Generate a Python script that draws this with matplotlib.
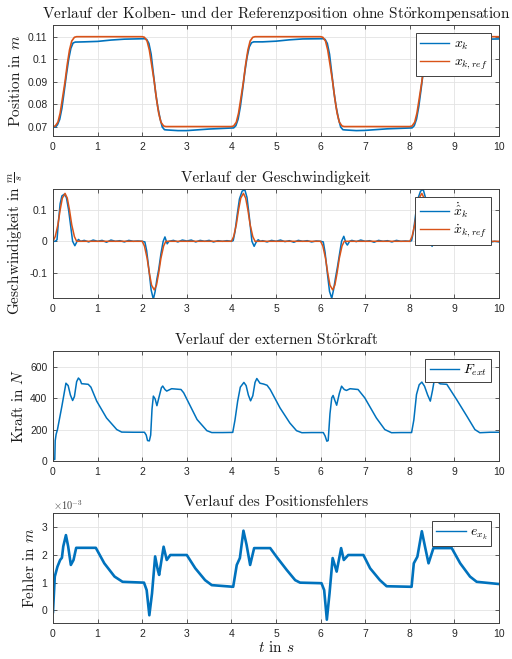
import numpy as np
import matplotlib
matplotlib.use("Agg")
import matplotlib.pyplot as plt
from matplotlib.ticker import FuncFormatter

# --- Messdaten (Stützstellen) ---------------------------------------------

# Referenzposition / Referenzgeschwindigkeit
t_ref = [0.0, 0.05, 0.11, 0.16, 0.21, 0.27, 0.32, 0.37, 0.42, 0.48, 0.53,
         2.0, 2.05, 2.11, 2.16, 2.21, 2.27, 2.32, 2.37, 2.42, 2.48, 2.53,
         4.0, 4.05, 4.11, 4.16, 4.21, 4.27, 4.32, 4.37, 4.42, 4.48, 4.53,
         6.0, 6.05, 6.11, 6.16, 6.21, 6.27, 6.32, 6.37, 6.42, 6.48, 6.53,
         8.0, 8.05, 8.11, 8.16, 8.21, 8.27, 8.32, 8.37, 8.42, 8.48, 8.53,
         10.0]
x_ref = [0.0700, 0.07026, 0.07194, 0.07594, 0.08226, 0.0900, 0.09774, 0.10406, 0.10806, 0.10974, 0.1100,
         0.1100, 0.10974, 0.10806, 0.10406, 0.09774, 0.0900, 0.08226, 0.07594, 0.07194, 0.07026, 0.0700,
         0.0700, 0.07026, 0.07194, 0.07594, 0.08226, 0.0900, 0.09774, 0.10406, 0.10806, 0.10974, 0.1100,
         0.1100, 0.10974, 0.10806, 0.10406, 0.09774, 0.0900, 0.08226, 0.07594, 0.07194, 0.07026, 0.0700,
         0.0700, 0.07026, 0.07194, 0.07594, 0.08226, 0.0900, 0.09774, 0.10406, 0.10806, 0.10974, 0.1100,
         0.1100]
v_ref = [0.0, 0.015, 0.053, 0.100, 0.138, 0.153, 0.138, 0.100, 0.053, 0.015, 0.0,
         0.0, -0.015, -0.054, -0.101, -0.140, -0.155, -0.140, -0.101, -0.054, -0.015, 0.0,
         0.0, 0.015, 0.053, 0.100, 0.138, 0.153, 0.138, 0.100, 0.053, 0.015, 0.0,
         0.0, -0.015, -0.054, -0.101, -0.140, -0.155, -0.140, -0.101, -0.054, -0.015, 0.0,
         0.0, 0.015, 0.053, 0.100, 0.138, 0.153, 0.138, 0.100, 0.053, 0.015, 0.0,
         0.0]

# Kolbenposition
t_pos = [0.0, 0.06, 0.1, 0.15, 0.2, 0.25, 0.3, 0.35, 0.4, 0.45, 0.5, 0.7, 1.0, 1.3, 1.6, 2.05,
         2.1, 2.15, 2.2, 2.25, 2.3, 2.35, 2.4, 2.45, 2.5, 2.55, 2.8, 3.0, 3.5, 4.05,
         4.1, 4.15, 4.2, 4.25, 4.3, 4.35, 4.4, 4.45, 4.5, 4.7, 5.0, 5.3, 5.6, 6.05,
         6.1, 6.15, 6.2, 6.25, 6.3, 6.35, 6.4, 6.45, 6.5, 6.55, 6.8, 7.0, 7.5, 8.05,
         8.1, 8.15, 8.2, 8.25, 8.3, 8.35, 8.4, 8.45, 8.5, 8.7, 9.0, 9.5, 10.0]
x_k = [0.0699, 0.0699, 0.0708, 0.0732, 0.0782, 0.0855, 0.0930, 0.0998, 0.1048, 0.1072, 0.1076, 0.1077, 0.1079, 0.1085, 0.1089, 0.1091,
       0.1088, 0.1070, 0.1022, 0.0937, 0.0852, 0.0786, 0.0736, 0.0698, 0.0686, 0.0685, 0.0682, 0.0682, 0.0689, 0.0694,
       0.0704, 0.0733, 0.0788, 0.0862, 0.0942, 0.1008, 0.1054, 0.1073, 0.1077, 0.1077, 0.1080, 0.1086, 0.1090, 0.1091,
       0.1088, 0.1070, 0.1022, 0.0937, 0.0852, 0.0786, 0.0736, 0.0698, 0.0686, 0.0685, 0.0682, 0.0683, 0.0690, 0.0694,
       0.0704, 0.0733, 0.0788, 0.0862, 0.0942, 0.1008, 0.1054, 0.1074, 0.1078, 0.1080, 0.1083, 0.1088, 0.1090]

# geschätzte Kolbengeschwindigkeit
t_vel = [0.0, 0.05, 0.09, 0.12, 0.16, 0.2, 0.25, 0.3, 0.35, 0.4, 0.44, 0.49, 0.54, 0.57, 0.62,
         0.7, 0.8, 0.9, 1.0, 1.1, 1.2, 1.3, 1.4, 1.5, 1.6, 1.7, 1.8, 1.9, 2.0,
         2.06, 2.1, 2.15, 2.2, 2.25, 2.29, 2.33, 2.37, 2.42, 2.47, 2.51, 2.56, 2.6,
         2.7, 2.8, 2.9, 3.0, 3.1, 3.2, 3.3, 3.4, 3.5, 3.6, 3.7, 3.8, 3.9, 4.0,
         4.04, 4.08, 4.13, 4.18, 4.24, 4.3, 4.35, 4.4, 4.46, 4.51, 4.55, 4.6, 4.65,
         4.7, 4.8, 4.9, 5.0, 5.1, 5.2, 5.3, 5.4, 5.5, 5.6, 5.7, 5.8, 5.9, 6.0,
         6.06, 6.1, 6.15, 6.2, 6.25, 6.29, 6.33, 6.38, 6.43, 6.47, 6.52, 6.57, 6.6, 6.65,
         6.7, 6.8, 6.9, 7.0, 7.1, 7.2, 7.3, 7.4, 7.5, 7.6, 7.7, 7.8, 7.9, 8.0,
         8.04, 8.08, 8.13, 8.18, 8.24, 8.3, 8.35, 8.4, 8.45, 8.5, 8.55, 8.6,
         8.7, 8.8, 8.9, 9.0, 9.1, 9.2, 9.3, 9.4, 9.5, 9.6, 9.7, 9.8, 9.9, 10.0]
v_k = [0.0, 0.0, 0.005, 0.06, 0.12, 0.145, 0.150, 0.140, 0.100, 0.045, 0.0, -0.014, 0.0, 0.006, 0.0,
       0.003, -0.002, 0.004, 0.0, 0.003, -0.003, 0.004, 0.0, 0.002, -0.002, 0.003, 0.0, 0.001, 0.0,
       -0.002, -0.03, -0.09, -0.155, -0.185, -0.16, -0.12, -0.09, -0.04, 0.0, 0.014, -0.008, 0.0,
       0.003, -0.002, 0.004, 0.001, 0.004, -0.002, 0.003, 0.0, 0.003, -0.002, 0.002, 0.0, 0.002, 0.0,
       0.002, 0.03, 0.085, 0.135, 0.160, 0.165, 0.140, 0.080, 0.0, -0.016, -0.004, 0.005, 0.0,
       0.002, -0.002, 0.003, 0.0, 0.004, -0.001, 0.002, -0.003, 0.003, 0.0, 0.002, -0.002, 0.001, 0.0,
       -0.002, -0.035, -0.10, -0.16, -0.182, -0.155, -0.12, -0.08, -0.035, 0.0, 0.016, -0.006, -0.012, 0.0,
       0.003, -0.001, 0.004, 0.0, 0.002, -0.003, 0.003, 0.0, 0.002, -0.002, 0.003, 0.0, 0.001, 0.0,
       0.002, 0.03, 0.085, 0.135, 0.160, 0.166, 0.140, 0.075, 0.0, -0.016, 0.007, 0.0,
       0.002, -0.003, 0.002, -0.002, 0.003, -0.001, 0.002, -0.004, 0.001, -0.002, 0.002, -0.003, 0.0, -0.002]

# externe Störkraft
t_F = [0.0, 0.04, 0.05, 0.07, 0.1, 0.2, 0.29, 0.34, 0.39, 0.44, 0.48, 0.53, 0.57, 0.61, 0.64, 0.72, 0.79, 0.85,
       0.98, 1.2, 1.43, 1.54, 1.8, 2.05,
       2.09, 2.12, 2.16, 2.19, 2.22, 2.25, 2.29, 2.33, 2.38, 2.43, 2.46, 2.51, 2.55, 2.6, 2.66, 2.87, 2.93,
       3.23, 3.45, 3.56, 3.8, 4.03,
       4.08, 4.14, 4.2, 4.28, 4.33, 4.38, 4.43, 4.48, 4.53, 4.57, 4.64, 4.72, 4.8, 4.87,
       5.09, 5.31, 5.46, 5.58, 5.8, 6.06,
       6.1, 6.14, 6.17, 6.21, 6.25, 6.28, 6.32, 6.36, 6.42, 6.47, 6.53, 6.58, 6.66, 6.84,
       6.99, 7.25, 7.44, 7.59, 7.8, 8.04,
       8.09, 8.15, 8.21, 8.27, 8.33, 8.4, 8.46, 8.51, 8.56, 8.62, 8.68, 8.83,
       9.05, 9.28, 9.46, 9.57, 9.8, 10.0]
F_ext = [10, 10, 130, 170, 200, 350, 495, 480, 420, 385, 410, 505, 528, 515, 492, 490, 488, 470,
         381, 274, 200, 184, 183, 183,
         165, 130, 128, 165, 330, 413, 395, 352, 410, 466, 477, 455, 445, 452, 460, 455, 434,
         264, 193, 181, 181, 182,
         260, 380, 470, 500, 480, 420, 383, 415, 500, 525, 495, 490, 482, 455,
         338, 242, 193, 180, 181, 181,
         160, 126, 130, 300, 402, 417, 385, 355, 430, 476, 455, 449, 460, 455,
         402, 274, 200, 180, 181, 181,
         260, 423, 485, 502, 476, 420, 381, 450, 534, 505, 491, 488,
         391, 285, 200, 180, 183, 183]

# Positionsfehler
t_e = [0.0, 0.04, 0.1, 0.16, 0.2, 0.23, 0.29, 0.34, 0.4, 0.46, 0.52, 0.96, 1.15, 1.38, 1.56, 2.04,
       2.1, 2.16, 2.22, 2.29, 2.35, 2.38, 2.48, 2.55, 2.63, 3.0, 3.19, 3.41, 3.56, 4.04,
       4.12, 4.19, 4.27, 4.34, 4.42, 4.51, 4.87, 5.01, 5.24, 5.43, 5.54, 6.02,
       6.08, 6.14, 6.2, 6.27, 6.36, 6.46, 6.52, 6.62, 6.96, 7.11, 7.33, 7.48, 8.04,
       8.09, 8.17, 8.27, 8.34, 8.42, 8.53, 8.94, 9.13, 9.35, 9.5, 10.0]
e_xk = [-0.06e-3, 1.22e-3, 1.58e-3, 1.82e-3, 1.9e-3, 2.31e-3, 2.72e-3, 2.31e-3, 1.64e-3, 1.82e-3, 2.26e-3, 2.26e-3, 1.70e-3, 1.22e-3, 1.03e-3, 1.0e-3,
        0.73e-3, -0.18e-3, 0.61e-3, 1.95e-3, 1.45e-3, 1.28e-3, 2.30e-3, 1.82e-3, 2.0e-3, 2.0e-3, 1.52e-3, 1.09e-3, 0.91e-3, 0.85e-3,
        1.64e-3, 1.89e-3, 2.88e-3, 2.37e-3, 1.64e-3, 2.25e-3, 2.25e-3, 1.94e-3, 1.46e-3, 1.09e-3, 1.0e-3, 0.98e-3,
        0.73e-3, -0.34e-3, 0.61e-3, 1.89e-3, 1.40e-3, 2.25e-3, 1.82e-3, 2.0e-3, 2.0e-3, 1.52e-3, 1.09e-3, 0.87e-3, 0.85e-3,
        1.70e-3, 1.94e-3, 2.86e-3, 2.31e-3, 1.70e-3, 2.25e-3, 2.25e-3, 1.70e-3, 1.22e-3, 1.03e-3, 0.95e-3]

# --- Darstellung -----------------------------------------------------------

BLUE = '#0072BD'
ORANGE = '#D95319'
AXC = '#404040'

plt.rcParams['font.family'] = 'Liberation Sans'
plt.rcParams['mathtext.fontset'] = 'cm'
plt.rcParams['axes.unicode_minus'] = False

SERIF = ['cmr10', 'DejaVu Serif']
OE = r'$\ddot{\mathrm{o}}$'

fig = plt.figure(figsize=(5.12, 6.59), dpi=100)

L, W = 53 / 512, 446 / 512
boxes = [(25, 136), (189, 298), (351, 461), (513, 623)]
axes = []
for top, bot in boxes:
    ax = fig.add_axes([L, 1 - bot / 659, W, (bot - top) / 659])
    axes.append(ax)


def style(ax, title, ylabel):
    ax.set_xlim(0, 10)
    ax.set_xticks(range(0, 11))
    ax.grid(True, color='#e3e3e3', lw=0.6)
    ax.set_axisbelow(True)
    for s in ax.spines.values():
        s.set_color(AXC)
        s.set_linewidth(0.7)
    ax.tick_params(direction='in', top=True, right=True, length=3, width=0.6,
                   color=AXC, labelcolor='#262626', labelsize=7.5, pad=4)
    ax.set_title(title, family=SERIF, fontsize=11, pad=5, color='#1a1a1a')
    ax.set_ylabel(ylabel, family=SERIF, fontsize=11, labelpad=3, color='#1a1a1a')


def legend(ax):
    lg = ax.legend(loc='upper right', fontsize=10, frameon=True, fancybox=False,
                   edgecolor=AXC, framealpha=1, handlelength=2.1, handletextpad=0.3,
                   borderaxespad=0.55, borderpad=0.3, labelspacing=0.2)
    lg.get_frame().set_linewidth(0.7)
    for h in lg.get_lines():
        h.set_linewidth(1.0)


gfmt = FuncFormatter(lambda v, p: f'{v:g}')

# 1) Position
ax = axes[0]
ax.plot(t_pos, x_k, color=BLUE, lw=1.2, label='$x_k$')
ax.plot(t_ref, x_ref, color=ORANGE, lw=1.2, label='$x_{k,ref}$')
ax.set_ylim(0.0658, 0.1152)
ax.set_yticks([0.07, 0.08, 0.09, 0.10, 0.11])
ax.yaxis.set_major_formatter(gfmt)
style(ax, f'Verlauf der Kolben- und der Referenzposition ohne St{OE}rkompensation', 'Position in $m$')
legend(ax)

# 2) Geschwindigkeit
ax = axes[1]
ax.plot(t_vel, v_k, color=BLUE, lw=1.1, label=r'$\dot{\hat{x}}_k$')
ax.plot(t_ref, v_ref, color=ORANGE, lw=1.1, label=r'$\dot{x}_{k,ref}$')
ax.set_ylim(-0.181, 0.167)
ax.set_yticks([-0.1, 0, 0.1])
ax.yaxis.set_major_formatter(gfmt)
style(ax, 'Verlauf der Geschwindigkeit', r'Geschwindigkeit in $\frac{m}{s}$')
legend(ax)

# 3) Störkraft
ax = axes[2]
ax.plot(t_F, F_ext, color=BLUE, lw=1.1, label='$F_{ext}$')
ax.set_ylim(0, 700)
ax.set_yticks([0, 200, 400, 600])
style(ax, f'Verlauf der externen St{OE}rkraft', 'Kraft in $N$')
legend(ax)

# 4) Positionsfehler
ax = axes[3]
ax.plot(t_e, e_xk, color=BLUE, lw=1.9, label='$e_{x_k}$')
ax.set_ylim(-0.46e-3, 3.52e-3)
ax.set_yticks([0, 1e-3, 2e-3, 3e-3])
ax.yaxis.set_major_formatter(FuncFormatter(lambda v, p: f'{v * 1e3:g}'))
style(ax, 'Verlauf des Positionsfehlers', 'Fehler in $m$')
ax.text(0.0, 1.012, r'$\times10^{-3}$', transform=ax.transAxes, fontsize=7.5,
        color='#404040', ha='left', va='bottom')
ax.set_xlabel('$t$ in $s$', family=SERIF, fontsize=11, labelpad=1, color='#1a1a1a')
legend(ax)

fig.savefig('out.png', dpi=100)
